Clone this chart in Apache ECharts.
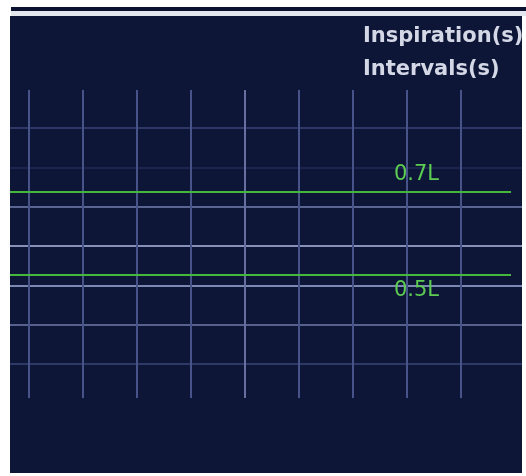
<!DOCTYPE html>
<html><head><meta charset="utf-8">
<script src="https://cdn.jsdelivr.net/npm/echarts/dist/echarts.min.js"></script>
<style>html,body{margin:0;padding:0;background:#fff;}#c{width:526px;height:476px;}</style>
</head><body><div id="c"></div>
<script>
// ---- data ----
const headerLabels = ['Inspiration(s)', 'Intervals(s)'];
const volumeLevels = [0.7, 0.5];
const volumeLabels = ['0.7L', '0.5L'];
const timeTickCount = 8;      // vertical grid divisions
const volumeRowCount = 6;     // horizontal grid divisions
// ---- styles ----
const hLineColors = ['#2e3866', '#1b244f', '#5a6592', '#8790b8', '#7c88b4', '#56618e', '#2f3967'];
const vLineColors = ['#48538a', '#48538a', '#48538a', '#48538a', '#6670a0', '#48538a', '#48538a', '#48538a', '#48538a'];
const green = '#43b83a';

const chart = echarts.init(document.getElementById('c'), null, {renderer: 'canvas'});
const off = {show: false};
function hiddenAxis(i, extra) {
  return Object.assign({gridIndex: i, type: 'value', show: true, axisLine: off, axisTick: off, axisLabel: off, splitLine: off}, extra || {});
}
const grids = [
  {left: 10, right: 4, top: 16, bottom: 3, show: true, backgroundColor: '#0e1638', borderWidth: 0},
  {left: 11, right: 0, top: 7, height: 4, show: true, backgroundColor: '#0b1131', borderWidth: 0},
  {left: 11, right: 0, top: 11, height: 5, show: true, backgroundColor: '#e4e6ee', borderWidth: 0},
  {left: 10, right: 4, top: 128, height: 236},
  {left: 29, width: 432, top: 90, height: 308},
  {left: 10, right: 15, top: 67, height: 332}
];
const xAxes = grids.map((g, i) => hiddenAxis(i, {min: 0, max: 1}));
const yAxes = grids.map((g, i) => hiddenAxis(i, {min: 0, max: 1}));
// horizontal grid rows
yAxes[3] = hiddenAxis(3, {min: 0, max: volumeRowCount, interval: 1, inverse: true,
  splitLine: {show: true, lineStyle: {color: hLineColors, width: 2}}});
// vertical time grid
xAxes[4] = hiddenAxis(4, {min: 0, max: timeTickCount, interval: 1,
  splitLine: {show: true, lineStyle: {color: vLineColors, width: 2}}});
// volume axis
yAxes[5] = hiddenAxis(5, {min: 0.2, max: 1.0});

chart.setOption({
  animation: false,
  backgroundColor: '#ffffff',
  title: headerLabels.map((t, i) => ({
    text: t, left: 363, top: 26 + i * 33, padding: 0,
    textStyle: {color: '#d4d8e6', fontSize: 21, fontWeight: 'bold', fontFamily: 'DejaVu Sans'}
  })),
  grid: grids,
  xAxis: xAxes,
  yAxis: yAxes,
  series: [{
    type: 'line', xAxisIndex: 5, yAxisIndex: 5, data: [],
    markLine: {
      silent: true, symbol: 'none',
      lineStyle: {color: green, width: 2, type: 'solid'},
      label: {color: '#5ccc52', fontSize: 21, fontFamily: 'DejaVu Sans', formatter: '{b}'},
      data: volumeLevels.map((v, i) => ({
        yAxis: v, name: volumeLabels[i],
        label: {position: i === 0 ? 'insideEndTop' : 'insideEndBottom', distance: [72, 6]}
      }))
    }
  }]
});
</script></body></html>
